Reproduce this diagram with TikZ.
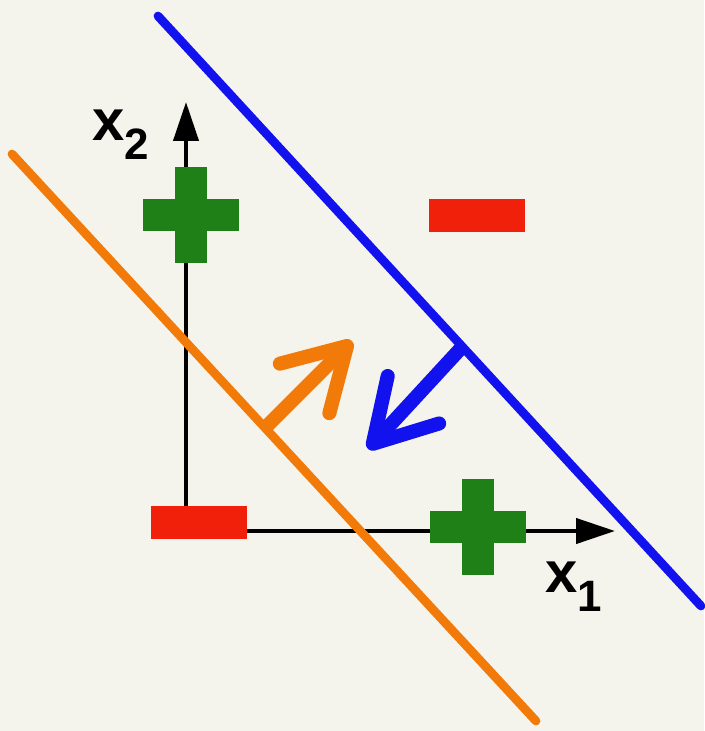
\documentclass[tikz,border=0pt]{standalone}
\usepackage{fontspec}
\setmainfont{Liberation Sans}
\usetikzlibrary{arrows.meta}

\definecolor{paper}{RGB}{245,244,236}
\definecolor{sepblue}{RGB}{18,18,238}
\definecolor{seporange}{RGB}{242,122,8}
\definecolor{plusgreen}{RGB}{30,128,22}
\definecolor{minusred}{RGB}{240,32,10}

\tikzset{
  axis/.style={line width=2.4pt, -{Triangle[length=0.78cm,width=0.5cm]}},
  sepline/.style={line width=5pt, line cap=round},
  normalarrow/.style={line width=8pt, -{Straight Barb[length=1.2cm,width=1.4cm,round]}},
  minusbar/.style={fill=minusred, minimum width=1.92cm, minimum height=0.66cm, inner sep=0pt},
  axlab/.style={inner sep=0pt, font=\bfseries},
}

% x suivi de son indice
\newcommand{\axname}[1]{{\fontsize{33}{33}\selectfont x}\raisebox{-11pt}{\fontsize{25}{25}\selectfont #1}}

\begin{document}
\begin{tikzpicture}[x=0.02cm, y=-0.02cm]
    % fond
    \fill[paper] (0,0) rectangle (704,731);
    \useasboundingbox (0,0) rectangle (704,731);

    % axes
    \coordinate (orig) at (186,531);
    \coordinate (xend) at (615,531);
    \coordinate (yend) at (186,102);
    \draw[axis] (orig) -- (xend);
    \draw[axis] (orig) -- (yend);

    % les deux droites separatrices
    \coordinate (blueA) at (158,16);
    \coordinate (blueB) at (701,606);
    \coordinate (orangeA) at (12,154);
    \coordinate (orangeB) at (536,721);
    \draw[sepline, sepblue] (blueA) -- (blueB);
    \draw[sepline, seporange] (orangeA) -- (orangeB);

    % exemples negatifs
    \node[minusbar] (minusA) at (199,522) {};
    \node[minusbar] (minusB) at (477,215) {};

    % exemples positifs
    \coordinate (plusA) at (191,215);
    \coordinate (plusB) at (478,527);
    \foreach \p in {plusA, plusB} {
        \fill[plusgreen, shift={(\p)}] (-16,-48) rectangle (16,48);
        \fill[plusgreen, shift={(\p)}] (-48,-16) rectangle (48,16);
    }

    % vecteurs normaux
    \coordinate (orangeFoot) at (265,428);
    \coordinate (orangeTip) at (352,341);
    \coordinate (blueFoot) at (463,346);
    \coordinate (blueTip) at (368,449);
    \draw[normalarrow, seporange] (orangeFoot) -- (orangeTip);
    \draw[normalarrow, sepblue] (blueFoot) -- (blueTip);

    % noms des axes
    \node[axlab, anchor=base west] (labtwo) at (92,140) {\axname{2}};
    \node[axlab, anchor=base west] (labone) at (545,592) {\axname{1}};
\end{tikzpicture}
\end{document}
